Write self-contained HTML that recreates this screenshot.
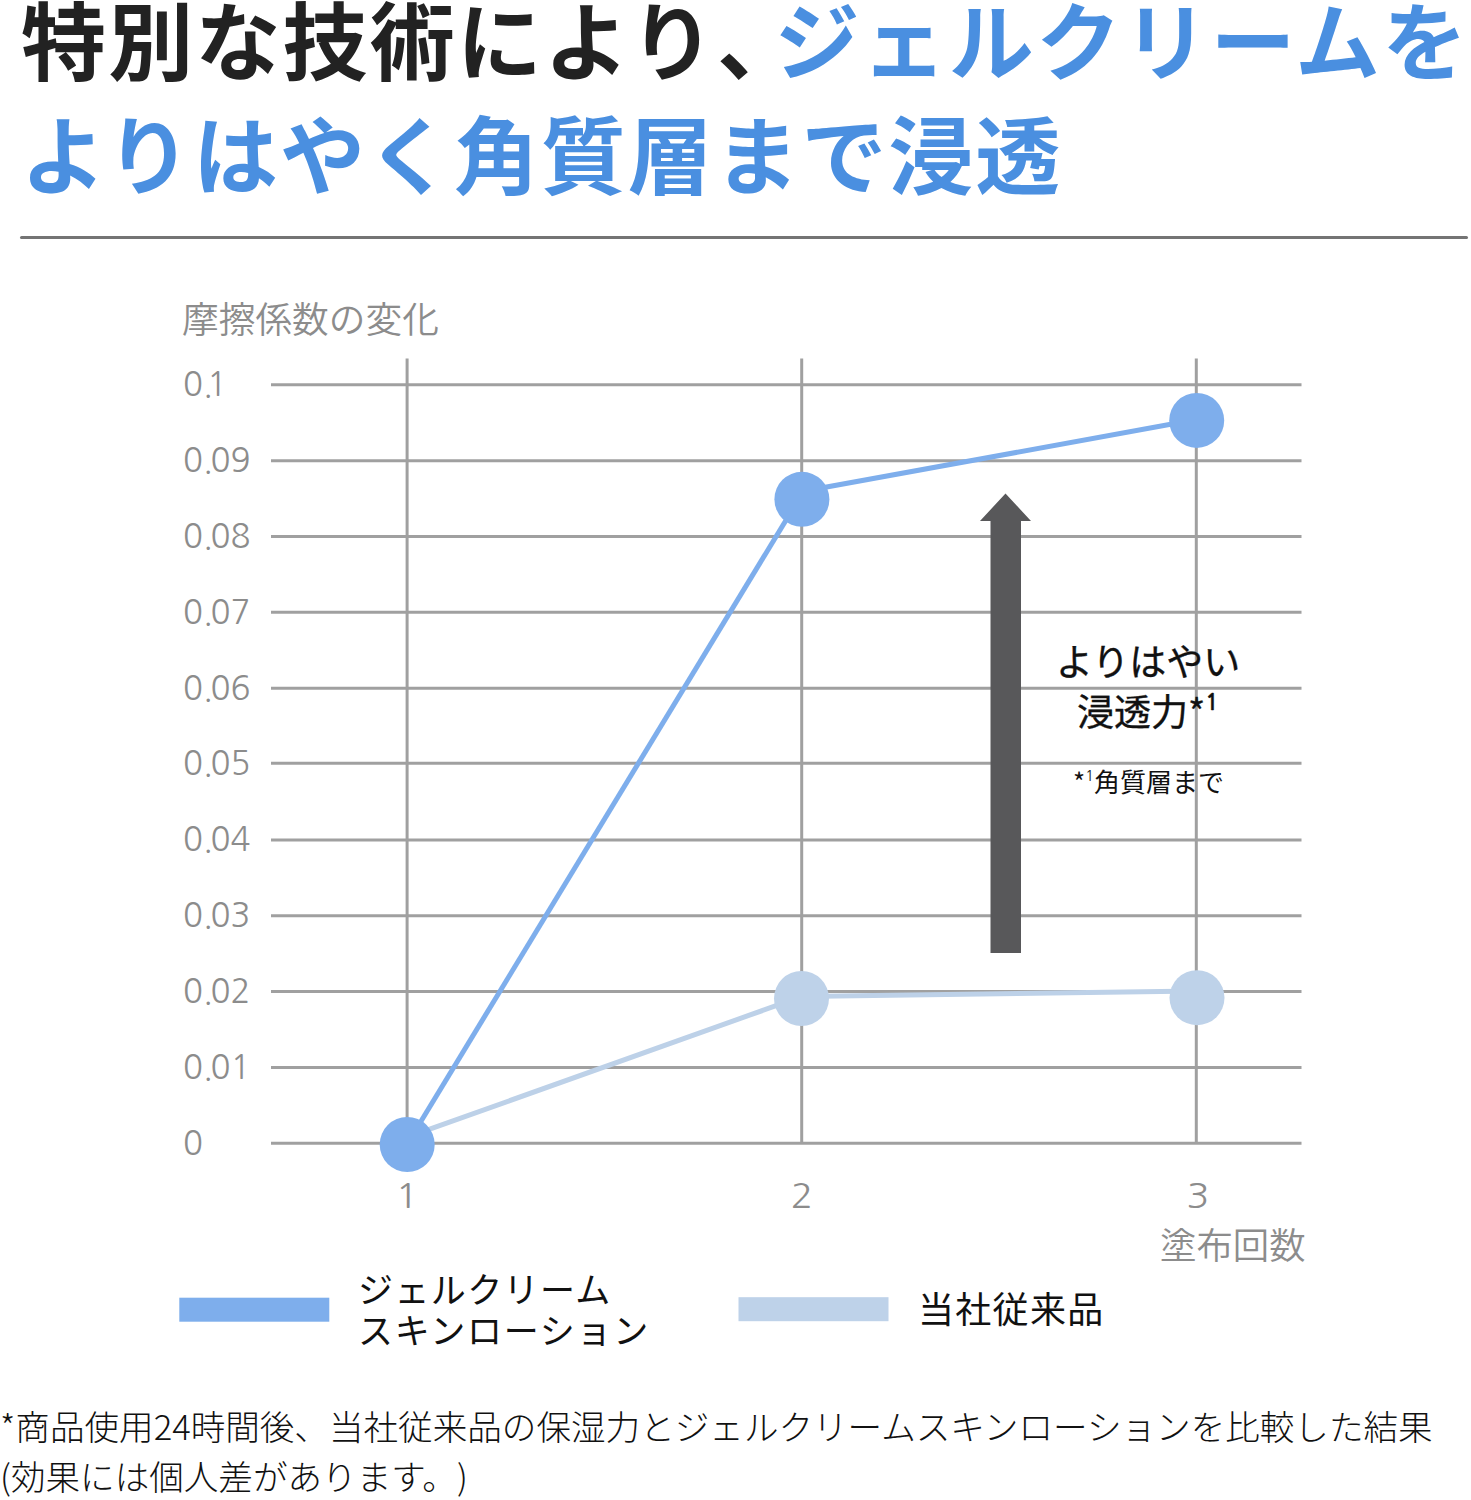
<!DOCTYPE html>
<html lang="ja">
<head>
<meta charset="utf-8">
<style>
html,body{margin:0;padding:0;background:#fff;}
body{width:1471px;height:1500px;position:relative;overflow:hidden;font-family:"Liberation Sans","Noto Sans CJK JP",sans-serif;text-spacing-trim:space-all;}
.t{position:absolute;white-space:nowrap;line-height:1;text-spacing-trim:space-all;}
.title{font-family:"Noto Sans CJK JP",sans-serif;font-weight:700;font-size:85px;color:#222;letter-spacing:2.2px;}
.blue{color:#4a8fe0;}
.ax{font-family:"Noto Sans CJK JP",sans-serif;font-weight:350;color:#8c8c8c;font-size:37px;}
.num{font-family:"NanumGothic",sans-serif;font-weight:400;color:#8c8c8c;font-size:33px;transform:scaleY(1.06);}
.num i{font-style:normal;margin-right:-2.4px;}
.lg{font-family:"Noto Sans CJK JP",sans-serif;font-weight:400;color:#111;font-size:36px;}
.fn{font-family:"Noto Sans CJK JP",sans-serif;font-weight:300;color:#111;font-size:34.6px;}
svg{position:absolute;left:0;top:0;}
</style>
</head>
<body>
<div class="t title" style="left:21px;top:-5.8px;">特別な技術により<span style="letter-spacing:-27.5px">、</span><span class="blue">ジェルクリームを</span></div>
<div class="t title blue" style="left:21px;top:108px;letter-spacing:1.9px;">よりはやく角質層まで浸透</div>

<div class="t ax" style="left:182px;top:299px;font-size:36.7px;">摩擦係数の変化</div>

<svg width="1471" height="1500" viewBox="0 0 1471 1500">
  <line x1="21.5" y1="237.5" x2="1466.5" y2="237.5" stroke="#747474" stroke-width="3" stroke-linecap="round"/>
  <g stroke="#a0a0a0" stroke-width="3" fill="none">
    <line x1="271" y1="384.8" x2="1301.5" y2="384.8"/>
    <line x1="271" y1="460.65" x2="1301.5" y2="460.65"/>
    <line x1="271" y1="536.5" x2="1301.5" y2="536.5"/>
    <line x1="271" y1="612.35" x2="1301.5" y2="612.35"/>
    <line x1="271" y1="688.2" x2="1301.5" y2="688.2"/>
    <line x1="271" y1="763.2" x2="1301.5" y2="763.2"/>
    <line x1="271" y1="839.9" x2="1301.5" y2="839.9"/>
    <line x1="271" y1="915.75" x2="1301.5" y2="915.75"/>
    <line x1="271" y1="991.6" x2="1301.5" y2="991.6"/>
    <line x1="271" y1="1067.45" x2="1301.5" y2="1067.45"/>
    <line x1="271" y1="1143.3" x2="1301.5" y2="1143.3"/>
    <line x1="407.1" y1="358.5" x2="407.1" y2="1143.3"/>
    <line x1="801.7" y1="358.5" x2="801.7" y2="1143.3"/>
    <line x1="1196.3" y1="358.5" x2="1196.3" y2="1143.3"/>
  </g>
  <polygon points="1005.5,493.5 1031,521 1021,521 1021,953 990.5,953 990.5,521 980,521" fill="#58585a"/>
  <polyline points="407.2,1137.2 801.5,996.6 1197,991" fill="none" stroke="#bdd1e8" stroke-width="5"/>
  <circle cx="801.5" cy="998.5" r="27.5" fill="#bed2e9"/>
  <circle cx="1197" cy="997.7" r="27.5" fill="#bed2e9"/>
  <line x1="407.2" y1="1144" x2="801.9" y2="494" stroke="#7eaeec" stroke-width="5"/>
  <line x1="801.9" y1="491.5" x2="1196.7" y2="419.5" stroke="#7eaeec" stroke-width="5"/>
  <circle cx="407.2" cy="1144.5" r="27.5" fill="#7eaeec"/>
  <circle cx="801.9" cy="499.3" r="27.5" fill="#7eaeec"/>
  <circle cx="1196.7" cy="420.4" r="27.5" fill="#7eaeec"/>
  <rect x="179.3" y="1297.7" width="150" height="24" fill="#7eaeec"/>
  <rect x="738.5" y="1297.2" width="150" height="24" fill="#bed2e9"/>
</svg>

<div class="t num" style="left:183px;top:367px;">0<i>.</i><span style="margin-left:-3.6px">1</span></div>
<div class="t num" style="left:183px;top:443px;">0<i>.</i>09</div>
<div class="t num" style="left:183px;top:519px;">0<i>.</i>08</div>
<div class="t num" style="left:183px;top:595px;">0<i>.</i>07</div>
<div class="t num" style="left:183px;top:671px;">0<i>.</i>06</div>
<div class="t num" style="left:183px;top:746px;">0<i>.</i>05</div>
<div class="t num" style="left:183px;top:822px;">0<i>.</i>04</div>
<div class="t num" style="left:183px;top:898px;">0<i>.</i>03</div>
<div class="t num" style="left:183px;top:974px;">0<i>.</i>02</div>
<div class="t num" style="left:183px;top:1050px;">0<i>.</i>01</div>
<div class="t num" style="left:183px;top:1126px;">0</div>

<div class="t num" style="left:397px;top:1179px;transform:scale(1.15,1.06);">1</div>
<div class="t num" style="left:792px;top:1179px;transform:scale(1.12,1.06);">2</div>
<div class="t num" style="left:1188px;top:1179px;transform:scale(1.15,1.06);">3</div>
<div class="t ax" style="left:1160px;top:1224.5px;font-size:36.4px;">塗布回数</div>

<div class="t lg" style="left:1056px;top:642px;font-size:37px;font-weight:400;-webkit-text-stroke:0.35px #111;">よりはやい</div>
<div class="t lg" style="left:1077px;top:691px;font-size:37px;font-weight:400;-webkit-text-stroke:0.35px #111;">浸透力*<span style="font-family:NanumGothic;font-size:22px;vertical-align:16px;font-weight:700;">1</span></div>
<div class="t lg" style="left:1073px;top:768px;font-size:26px;">*<span style="font-family:NanumGothic;font-size:14.5px;vertical-align:11px;">1</span>角質層まで</div>

<div class="t lg" style="left:358px;top:1269.5px;font-size:35px;letter-spacing:1.4px;">ジェルクリーム</div>
<div class="t lg" style="left:358px;top:1311px;font-size:35px;letter-spacing:1.7px;">スキンローション</div>
<div class="t lg" style="left:918px;top:1289px;letter-spacing:1.3px;">当社従来品</div>

<div class="t fn" style="left:0px;top:1407.5px;">*商品使用24時間後、当社従来品の保湿力とジェルクリームスキンローションを比較した結果</div>
<div class="t fn" style="left:0px;top:1458px;">(効果には個人差があります。)</div>
</body>
</html>
